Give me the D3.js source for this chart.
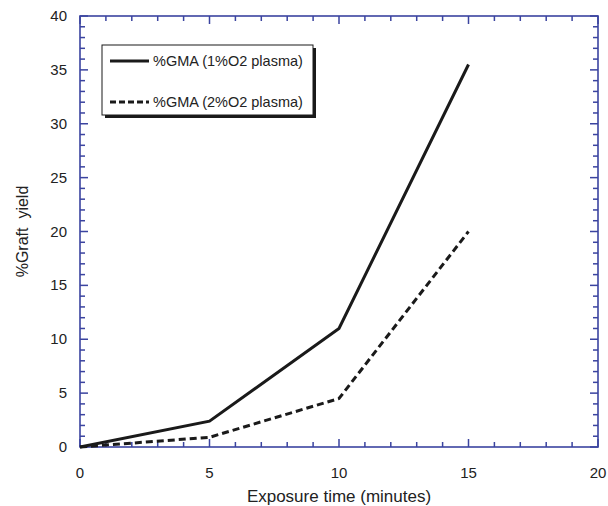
<!DOCTYPE html>
<html>
<head>
<meta charset="utf-8">
<script src="https://cdn.jsdelivr.net/npm/d3@7"></script>
<style>
  body { margin: 0; background: #fff; }
  text { font-family: "Liberation Sans", Arial, sans-serif; }
</style>
</head>
<body>
<div id="chart"></div>
<script>
// chart data
const times = [0, 5, 10, 15];
const gma1 = [0, 2.4, 11, 35.5];
const gma2 = [0, 0.9, 4.5, 20];
const seriesNames = ["%GMA (1%O2 plasma)", "%GMA (2%O2 plasma)"];
const xTickValues = [0, 5, 10, 15, 20];
const yTickValues = [0, 5, 10, 15, 20, 25, 30, 35, 40];

const width = 608, height = 506;
const margin = {top: 16, left: 80, right: 10, bottom: 59};
const axisColor = "#3b44a0";

const svg = d3.select("#chart").append("svg")
    .attr("width", width)
    .attr("height", height);

const x = d3.scaleLinear().domain([0, 20]).range([margin.left, width - margin.right]);
const y = d3.scaleLinear().domain([0, 40]).range([height - margin.bottom, margin.top]);

// frame
svg.append("rect")
    .attr("x", x(0)).attr("y", y(40))
    .attr("width", x(20) - x(0)).attr("height", y(0) - y(40))
    .attr("fill", "none")
    .attr("stroke", axisColor)
    .attr("stroke-width", 1.6);

// inward ticks on all four sides: minor every 1, major every 5
const xt = d3.range(0, 21, 1);
const yt = d3.range(0, 41, 1);
const tickLen = d => (d % 5 === 0 ? 8 : 5);

const ticks = svg.append("g").attr("class", "ticks");
xt.forEach(d => {
    const px = x(d);
    ticks.append("rect").attr("x", px - 0.75).attr("y", y(0) - tickLen(d)).attr("width", 1.5).attr("height", tickLen(d)).attr("fill", axisColor);
    ticks.append("rect").attr("x", px - 0.75).attr("y", y(40)).attr("width", 1.5).attr("height", tickLen(d)).attr("fill", axisColor);
});
yt.forEach(d => {
    const py = y(d);
    ticks.append("rect").attr("x", x(0)).attr("y", py - 0.75).attr("width", tickLen(d)).attr("height", 1.5).attr("fill", axisColor);
    ticks.append("rect").attr("x", x(20) - tickLen(d)).attr("y", py - 0.75).attr("width", tickLen(d)).attr("height", 1.5).attr("fill", axisColor);
});

// tick labels
svg.selectAll(".xlab")
    .data(xTickValues)
    .enter().append("text")
    .attr("x", d => x(d))
    .attr("y", y(0) + 31)
    .attr("text-anchor", "middle")
    .style("font-size", "15px")
    .style("fill", "#222")
    .text(d => d);

svg.selectAll(".ylab")
    .data(yTickValues)
    .enter().append("text")
    .attr("x", x(0) - 13)
    .attr("y", d => y(d) + 5)
    .attr("text-anchor", "end")
    .style("font-size", "15px")
    .style("fill", "#222")
    .text(d => d);

// axis titles
svg.append("text")
    .attr("x", (x(0) + x(20)) / 2)
    .attr("y", 502)
    .attr("text-anchor", "middle")
    .style("font-size", "17px")
    .style("fill", "#222")
    .text("Exposure time (minutes)");

svg.append("text")
    .attr("transform", "translate(28," + ((y(0) + y(40)) / 2) + ") rotate(-90)")
    .attr("text-anchor", "middle")
    .style("font-size", "16px")
    .style("fill", "#222")
    .style("white-space", "pre")
    .text("%Graft  yield");

// lines
const line = d3.line().x(d => x(d[0])).y(d => y(d[1]));

svg.append("path")
    .datum(times.map((t, i) => [t, gma1[i]]))
    .attr("d", line)
    .style("fill", "none")
    .style("stroke", "#1a1a1a")
    .style("stroke-width", 3);

svg.append("path")
    .datum(times.map((t, i) => [t, gma2[i]]))
    .attr("d", line)
    .style("fill", "none")
    .style("stroke", "#1a1a1a")
    .style("stroke-width", 3)
    .style("stroke-dasharray", "7,4");

// legend with drop shadow
const lg = svg.append("g").attr("transform", "translate(102,45)");
lg.append("rect")
    .attr("x", 3).attr("y", 3)
    .attr("width", 211).attr("height", 70)
    .style("fill", "#1a1a1a");
lg.append("rect")
    .attr("x", 0).attr("y", 0)
    .attr("width", 211).attr("height", 70)
    .style("fill", "#fff")
    .style("stroke", "#1a1a1a")
    .style("stroke-width", 1);

[0, 1].forEach(i => {
    const ly = 16 + i * 41;
    lg.append("line")
        .attr("x1", 8).attr("x2", 47)
        .attr("y1", ly).attr("y2", ly)
        .style("stroke", "#1a1a1a")
        .style("stroke-width", 3)
        .style("stroke-dasharray", i === 1 ? "6,3" : null);
    lg.append("text")
        .attr("x", 51)
        .attr("y", ly + 5)
        .style("font-size", "14.5px")
        .style("fill", "#222")
        .text(seriesNames[i]);
});
</script>
</body>
</html>
